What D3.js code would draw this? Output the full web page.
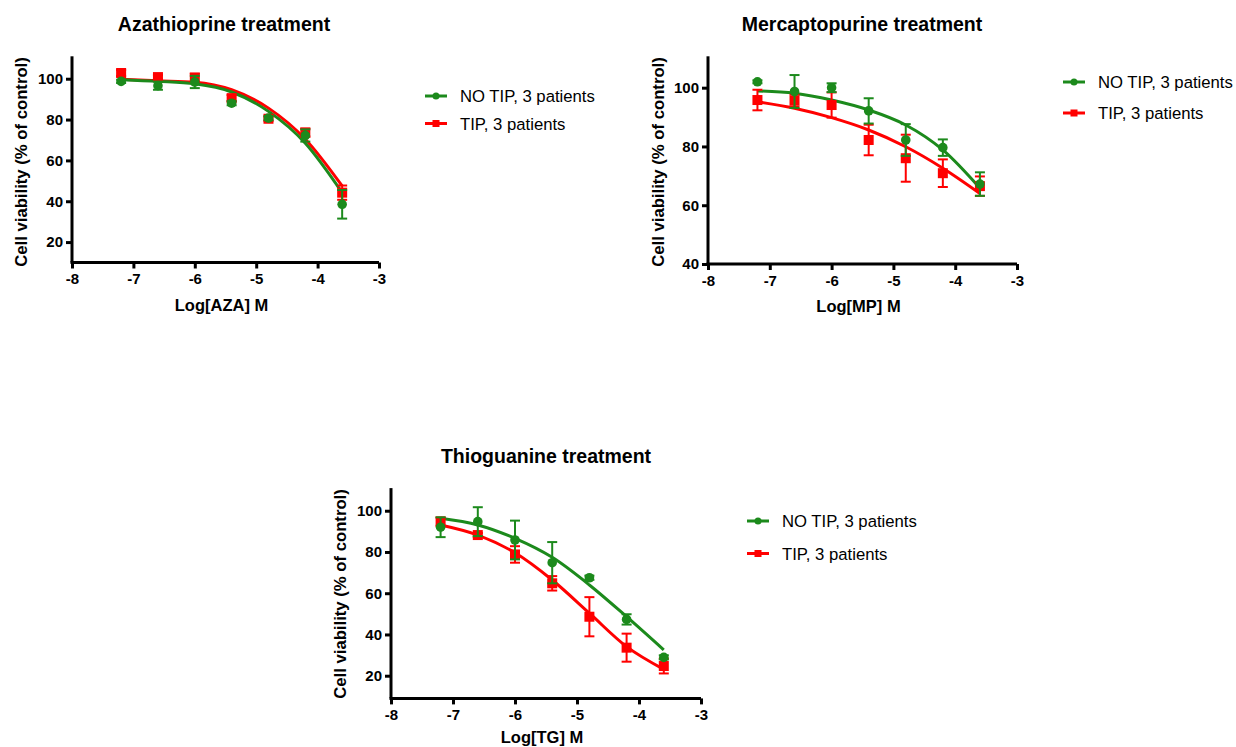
<!DOCTYPE html>
<html><head><meta charset="utf-8">
<script src="https://cdn.jsdelivr.net/npm/d3@7"></script>
<style>body{margin:0;background:#fff}svg{display:block}text{font-family:"Liberation Sans",Arial,sans-serif}</style>
</head><body><svg id="c" width="1236" height="747"></svg>
<script>
const doses = [-7.2, -6.6, -6.0, -5.4, -4.8, -4.2, -3.6];
const xTicks = [-8, -7, -6, -5, -4, -3];
const seriesNames = ["NO TIP, 3 patients", "TIP, 3 patients"];

// Azathioprine
const azaNoTip = [98.7, 96.6, 98.4, 88.0, 80.7, 72.2, 38.5];
const azaNoTipErr = [0.8, 2.0, 3.0, 1.0, 1.0, 3.0, 7.0];
const azaTip = [102.8, 100.8, 100.5, 90.5, 80.4, 73.6, 44.2];
const azaTipErr = [1.5, 1.0, 2.0, 1.5, 1.0, 2.0, 3.5];
const azaNoTipFit = [99.5, 98.7, 97.5, 93.5, 84.0, 68.4, 44.2];
const azaTipFit = [99.7, 99.0, 98.3, 94.6, 85.6, 70.4, 47.5];

// Mercaptopurine
const mpNoTip = [102.0, 98.7, 100.0, 92.1, 82.2, 79.6, 67.2];
const mpNoTipErr = [0.5, 5.6, 1.5, 4.3, 5.4, 2.8, 4.0];
const mpTip = [95.8, 95.6, 94.1, 82.2, 76.0, 70.9, 66.5];
const mpTipErr = [3.5, 2.0, 4.3, 5.2, 8.0, 4.7, 3.3];
const mpNoTipFit = [98.9, 98.1, 95.8, 92.4, 87.3, 78.8, 65.8];
const mpTipFit = [95.2, 93.0, 89.8, 85.6, 79.9, 72.6, 64.0];

// Thioguanine
const tgNoTip = [92.0, 94.7, 85.8, 74.8, 67.5, 47.3, 28.9];
const tgNoTipErr = [4.8, 7.0, 9.4, 10.0, 1.0, 2.5, 1.0];
const tgTip = [94.7, 88.2, 78.8, 64.8, 48.6, 33.6, 24.7];
const tgTipErr = [2.0, 1.0, 4.0, 3.5, 9.5, 6.8, 3.6];
const tgNoTipFit = [96.3, 93.1, 86.6, 77.4, 64.0, 48.6, 32.5];
const tgTipFit = [93.1, 88.2, 79.6, 66.4, 50.3, 34.1, 23.1];

const GREEN = "#1c8a1c", RED = "#ff0000";
const svg = d3.select("#c");

const panels = [
  {title:"Azathioprine treatment", xlabel:"Log[AZA] M", x0:72, x1:379, yb:262.5, yt:58.3, dom:[10,110], yTicks:[20,40,60,80,100],
   titleX:224, titleY:31, xlabY:311, ylabX:21, ylabY:162,
   leg:{x:425, y:96, dy:27.5},
   g:azaNoTip, ge:azaNoTipErr, gf:azaNoTipFit, r:azaTip, re:azaTipErr, rf:azaTipFit},
  {title:"Mercaptopurine treatment", xlabel:"Log[MP] M", x0:708, x1:1017, yb:264, yt:58.3, dom:[40,110], yTicks:[40,60,80,100],
   titleX:862, titleY:31, xlabY:312, ylabX:658, ylabY:162,
   leg:{x:1063, y:82, dy:31},
   g:mpNoTip, ge:mpNoTipErr, gf:mpNoTipFit, r:mpTip, re:mpTipErr, rf:mpTipFit},
  {title:"Thioguanine treatment", xlabel:"Log[TG] M", x0:391, x1:701, yb:698.4, yt:490.1, dom:[9,110], yTicks:[20,40,60,80,100],
   titleX:546, titleY:463, xlabY:743, ylabX:340, ylabY:594,
   leg:{x:747, y:521, dy:32.5},
   g:tgNoTip, ge:tgNoTipErr, gf:tgNoTipFit, r:tgTip, re:tgTipErr, rf:tgTipFit}
];

panels.forEach(p => {
  const x = d3.scaleLinear().domain([-8,-3]).range([p.x0, p.x1]);
  const y = d3.scaleLinear().domain(p.dom).range([p.yb, p.yt]);
  const g = svg.append("g");

  const xa = g.append("g").attr("transform", `translate(0,${p.yb})`)
    .call(d3.axisBottom(x).tickValues(xTicks).tickFormat(d => String(d)).tickSize(6).tickSizeOuter(0));
  const ya = g.append("g").attr("transform", `translate(${p.x0},0)`)
    .call(d3.axisLeft(y).tickValues(p.yTicks).tickFormat(d => String(d)).tickSize(6).tickSizeOuter(0));
  [xa, ya].forEach(a => {
    a.select(".domain").attr("stroke", "#000").attr("stroke-width", 3);
    a.selectAll(".tick line").attr("stroke", "#000").attr("stroke-width", 3);
    a.selectAll(".tick text").attr("fill", "#000").attr("font-size", 15).attr("font-weight", "bold")
      .attr("font-family", '"Liberation Sans",Arial,sans-serif');
  });
  xa.select(".domain").attr("d", `M${p.x0 - 1.5},0H${p.x1}`);
  ya.select(".domain").attr("d", `M0,${p.yb}V${p.yt - 2}`);
  xa.selectAll(".tick text").attr("y", 11);
  ya.selectAll(".tick text").attr("x", -9);

  g.append("text").attr("x", p.titleX).attr("y", p.titleY).attr("text-anchor","middle")
    .attr("font-size", 19.5).attr("font-weight","bold").text(p.title);
  g.append("text").attr("x", (p.x0+p.x1)/2 - 4).attr("y", p.xlabY).attr("text-anchor","middle")
    .attr("font-size", 16.5).attr("font-weight","bold").text(p.xlabel);
  g.append("text").attr("transform", `translate(${p.ylabX + 6},${p.ylabY}) rotate(-90)`).attr("text-anchor","middle")
    .attr("font-size", 16.7).attr("font-weight","bold").text("Cell viability (% of control)");

  const line = d3.line().x((d,i) => x(doses[i])).y(d => y(d)).curve(d3.curveMonotoneX);

  const series = [
    {vals:p.r, err:p.re, fit:p.rf, color:RED, shape:"square"},
    {vals:p.g, err:p.ge, fit:p.gf, color:GREEN, shape:"circle"}
  ];
  series.forEach(s => {
    g.append("path").datum(s.fit).attr("d", line).attr("fill","none")
      .attr("stroke", s.color).attr("stroke-width", 3);
  });
  series.forEach(s => {
    const eg = g.append("g").attr("stroke", s.color).attr("stroke-width", 2).attr("fill","none");
    s.vals.forEach((v,i) => {
      const cx = x(doses[i]);
      const top = y(v + s.err[i]), bot = y(v - s.err[i]);
      eg.append("line").attr("x1", cx).attr("x2", cx).attr("y1", top).attr("y2", bot);
      eg.append("line").attr("x1", cx-5).attr("x2", cx+5).attr("y1", top).attr("y2", top);
      eg.append("line").attr("x1", cx-5).attr("x2", cx+5).attr("y1", bot).attr("y2", bot);
    });
    s.vals.forEach((v,i) => {
      const cx = x(doses[i]), cy = y(v);
      if (s.shape === "circle") g.append("circle").attr("cx", cx).attr("cy", cy).attr("r", 4.8).attr("fill", s.color);
      else g.append("rect").attr("x", cx-5).attr("y", cy-5).attr("width", 10).attr("height", 10).attr("fill", s.color);
    });
  });

  const lg = g.append("g");
  [{c:GREEN, s:"circle"}, {c:RED, s:"square"}].forEach((l, i) => {
    const ly = p.leg.y + i * p.leg.dy;
    lg.append("line").attr("x1", p.leg.x).attr("x2", p.leg.x + 22).attr("y1", ly).attr("y2", ly)
      .attr("stroke", l.c).attr("stroke-width", 3);
    if (l.s === "circle") lg.append("circle").attr("cx", p.leg.x + 11).attr("cy", ly).attr("r", 3.5).attr("fill", l.c);
    else lg.append("rect").attr("x", p.leg.x + 7.5).attr("y", ly - 3.5).attr("width", 7).attr("height", 7).attr("fill", l.c);
    lg.append("text").attr("x", p.leg.x + 35).attr("y", ly + 6).attr("font-size", 16.7).text(seriesNames[i]);
  });
});
</script></body></html>
